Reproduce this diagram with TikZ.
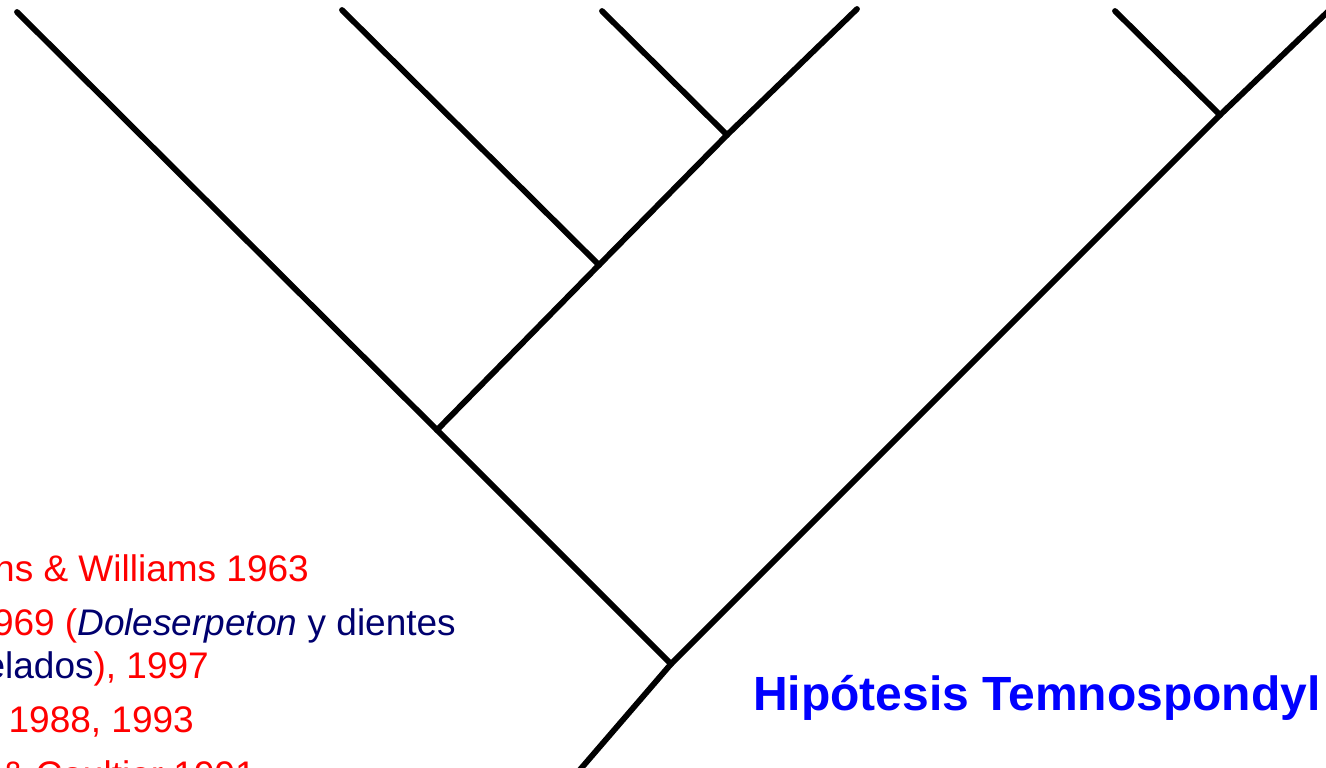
\documentclass[tikz,border=0pt]{standalone}
\usepackage{fontspec}
\setmainfont{Liberation Sans}
\definecolor{refred}{RGB}{255,0,0}
\definecolor{refnavy}{RGB}{0,0,110}
\definecolor{refblue}{RGB}{0,0,255}
\begin{document}
\begin{tikzpicture}[x=1pt,y=-1pt,
  branch/.style={line width=5.8pt,line cap=round,line join=round,black},
  reftext/.style={anchor=base east,inner sep=0pt,font=\fontsize{37}{44}\selectfont,text=refred},
  title/.style={anchor=base west,inner sep=0pt,font=\fontsize{48}{56}\selectfont\bfseries,text=refblue}]
\useasboundingbox (0,0) rectangle (1326,768);
\clip (0,0) rectangle (1326,768);
% tree coordinates
\coordinate (root) at (578,772);
\coordinate (A) at (671,664);
\coordinate (B) at (437,430);
\coordinate (C) at (599,265);
\coordinate (D) at (727,135);
\coordinate (E) at (1220,115);
\coordinate (t1) at (17,12);
\coordinate (t2) at (342,10);
\coordinate (t3) at (602,11);
\coordinate (t4) at (857,9);
\coordinate (t5) at (1115,11);
\coordinate (t6) at (1340,0);
% branches
\draw[branch] (root) -- (A);
\draw[branch] (A) -- (B);
\draw[branch] (B) -- (t1);
\draw[branch] (B) -- (C);
\draw[branch] (C) -- (t2);
\draw[branch] (C) -- (D);
\draw[branch] (D) -- (t3);
\draw[branch] (D) -- (t4);
\draw[branch] (A) -- (E);
\draw[branch] (E) -- (t5);
\draw[branch] (E) -- (t6);
% texts
\node[reftext] (l1) at (309,581) {ns \& Williams 1963};
\node[reftext] (l2) at (456,635) {969 (\textcolor{refnavy}{\textit{Doleserpeton} y dientes}};
\node[reftext] (l3) at (209,678) {\textcolor{refnavy}{elados}), 1997};
\node[reftext] (l4) at (194,732) {1988, 1993};
\node[reftext] (l5) at (256,787) {\& Coultier 1991};
\node[title] (tt) at (753,710) {Hipótesis Temnospondyl};
\end{tikzpicture}
\end{document}
